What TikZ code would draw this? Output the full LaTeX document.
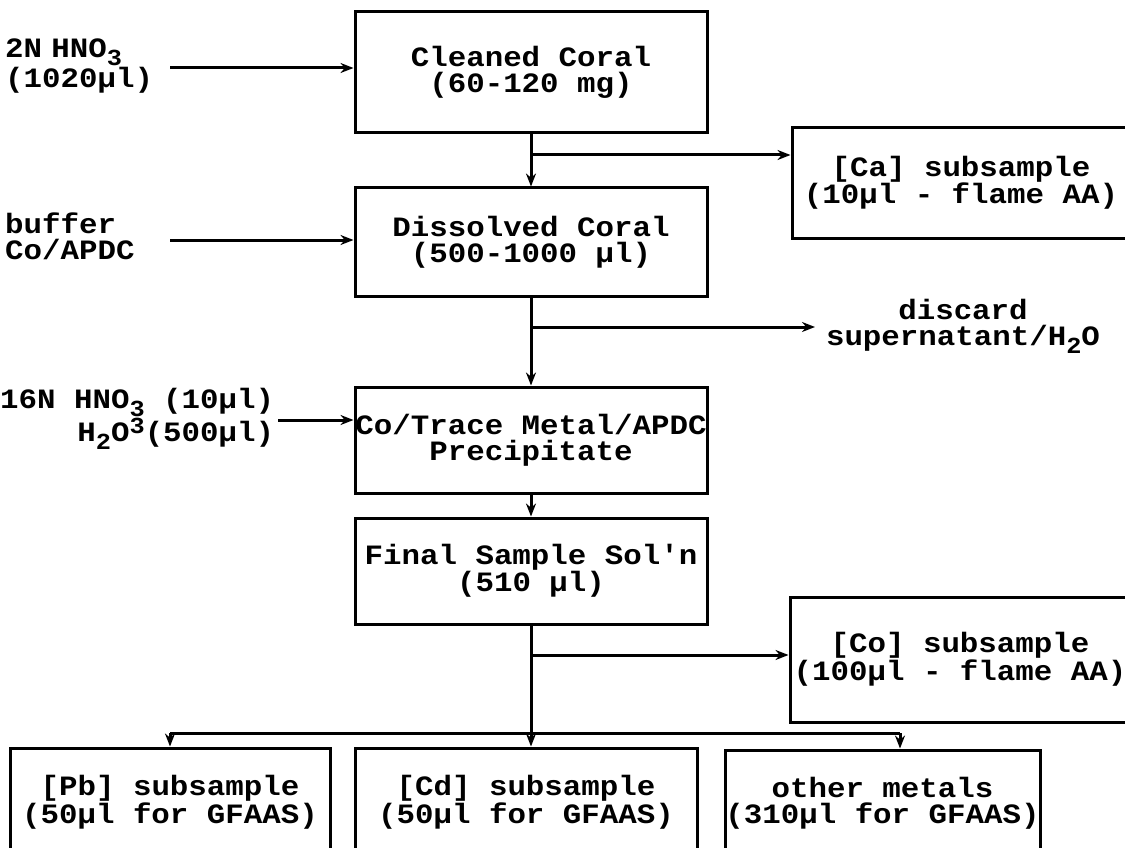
\documentclass[tikz,border=0pt]{standalone}
\usepackage{fontspec}
\setmonofont{Liberation Mono}[FakeStretch=1.1]
\usepackage{tikz}
\usetikzlibrary{arrows.meta}
\usetikzlibrary{calc}

\newcommand{\lowdig}[1]{\raisebox{-8pt}{\fontsize{23}{23}\selectfont #1}}
\newcommand{\highdig}[1]{\raisebox{8pt}{\fontsize{23}{23}\selectfont #1}}

\tikzset{
	labtxt/.style={font=\ttfamily\bfseries\fontsize{28}{26}\selectfont, inner sep=0pt},
	stepbox/.style={labtxt, draw, line width=3pt, align=center},
	flow/.style={line width=3pt, ->}
}

\begin{document}
\begin{tikzpicture}[x=1pt,y=-1pt,>={Stealth[length=13pt,width=10pt]}]
		
		% Frame
		\useasboundingbox (0,0) rectangle (1125,848);
		\clip (0,0) rectangle (1125,848);
		
		% Main column
		\node[stepbox, minimum width=352pt, minimum height=121pt] (cleaned) at (531,72.5) {Cleaned Coral\\(60-120 mg)};
		\node[stepbox, minimum width=352pt, minimum height=108pt] (dissolved) at (531,242) {Dissolved Coral\\(500-1000 µl)};
		\node[stepbox, minimum width=352pt, minimum height=106pt] (precip) at (531,440) {Co/Trace Metal/APDC\\Precipitate};
		\node[stepbox, minimum width=352pt, minimum height=106pt] (final) at (531,571) {Final Sample Sol'n\\(510 µl)};
		
		% Side boxes
		\node[stepbox, minimum width=338pt, minimum height=110pt] (casub) at (961,183) {[Ca] subsample\\(10µl - flame AA)};
		\node[stepbox, minimum width=340pt, minimum height=125pt] (cosub) at (960,659.5) {[Co] subsample\\(100µl - flame AA)};
		
		% Bottom row
		\node[stepbox, minimum width=320pt, minimum height=108pt] (pbsub) at (170,802) {[Pb] subsample\\(50µl for GFAAS)};
		\node[stepbox, minimum width=342pt, minimum height=108pt] (cdsub) at (526,802) {[Cd] subsample\\(50µl for GFAAS)};
		\node[stepbox, minimum width=315pt, minimum height=106pt] (other) at (882.5,803) {other metals\\(310µl for GFAAS)};
		
		% Inputs
		\node[labtxt, anchor=west, text width=165pt, align=left] (hno) at (5,66) {2N HNO\lowdig{3}\\(1020µl)};
		\node[labtxt, anchor=west, text width=165pt, align=left] (buffer) at (5,236) {buffer\\Co/APDC};
		\node[labtxt, anchor=west, inner xsep=4pt, align=right] (acid) at (-4,419) {16N HNO\lowdig{3} (10µl)\\H\lowdig{2}O\highdig{3}(500µl)};
		\node[labtxt, align=center] (discard) at (963,326) {discard\\supernatant/H\lowdig{2}O};
		
		% Junctions
		\coordinate (j1) at (531,155);
		\coordinate (j2) at (531,327);
		\coordinate (j3) at (531,655);
		\coordinate (bus) at (531,733);
		\coordinate (discardend) at (815,327);
		\coordinate (busR) at (900,733);
		
		% Input arrows
		\draw[flow] (hno.east |- 0,68) -- (cleaned.west |- 0,68);
		\draw[flow] (buffer.east |- 0,240) -- (dissolved.west |- 0,240);
		\draw[flow] (acid.east |- 0,420) -- (precip.west |- 0,420);
		
		% Main flow
		\draw[flow] (cleaned.south) -- (dissolved.north);
		\draw[flow] (dissolved.south) -- (precip.north);
		\draw[flow] (precip.south) -- (final.north);
		\draw[flow] (final.south) -- (cdsub.north -| final.south);
		
		% Branches
		\draw[flow] (j1) -- (j1 -| casub.west);
		\draw[flow] (j2) -- (discardend);
		\draw[flow] (j3) -- (j3 -| cosub.west);
		\draw[line width=3pt] (bus -| pbsub.north) -- (busR);
		\draw[flow] (bus -| pbsub.north) -- (pbsub.north);
		\draw[flow] (busR) -- (busR |- other.north);
		
	\end{tikzpicture}
\end{document}
